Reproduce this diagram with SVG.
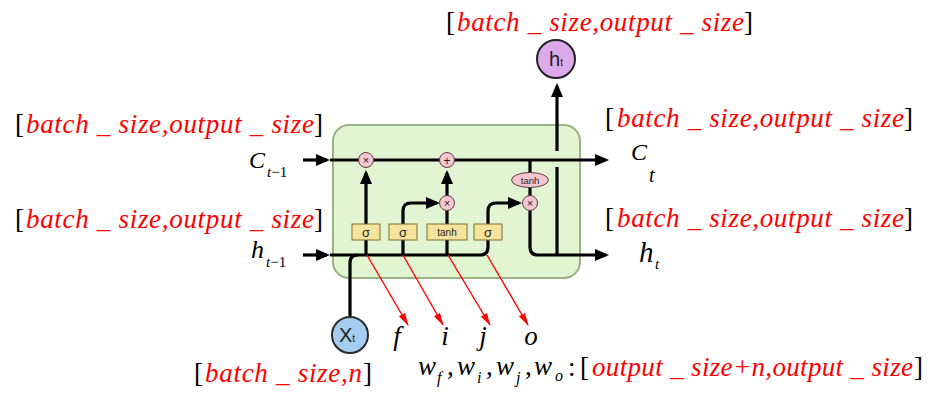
<svg xmlns="http://www.w3.org/2000/svg" width="940" height="403" viewBox="0 0 940 403">
<style>
text{font-family:"Liberation Serif","Times New Roman",serif}
.ln{fill:none;stroke:#000;stroke-width:3.2}
.rl{fill:none;stroke:#f00;stroke-width:1.4}
.pk{fill:#f6c6d0;stroke:#5a4048;stroke-width:1}
.yb{fill:#f6e49c;stroke:#7d6d30;stroke-width:1}
text.gl{font-family:"Liberation Sans","DejaVu Sans",sans-serif;fill:#222;text-anchor:middle}
.m{font-family:"Liberation Serif","Times New Roman",serif;font-style:italic;fill:#000}
.up{font-family:"Liberation Serif","Times New Roman",serif;font-style:normal;fill:#000}
.rd{font-family:"Liberation Serif","Times New Roman",serif;font-style:italic;fill:#f00}
</style>
<defs>
<marker id="ah" viewBox="0 0 14 12" refX="11" refY="6" markerWidth="14" markerHeight="12" markerUnits="userSpaceOnUse" orient="auto"><path d="M0,0 L14,6 L0,12 z" fill="#000"/></marker>
<marker id="ar" viewBox="0 0 13 7" refX="12" refY="3.5" markerWidth="13" markerHeight="7" markerUnits="userSpaceOnUse" orient="auto"><path d="M0,0 L13,3.5 L0,7 z" fill="#f00"/></marker>
</defs>
<rect width="940" height="403" fill="#fff"/>
<g id="cell"><rect x="333" y="125" width="247" height="153" rx="16" fill="#e1f5d2" stroke="#98b283" stroke-width="2"/></g>
<g id="connectors">
<path class="ln" d="M303 160 H327" marker-end="url(#ah)"/>
<path class="ln" d="M330 160 H606" marker-end="url(#ah)"/>
<path class="ln" d="M303 255 H327" marker-end="url(#ah)"/>
<path class="ln" d="M330 255 H480 Q488 255 488 247 V211 Q488 203 496 203 H519" marker-end="url(#ah)"/>
<path class="ln" d="M366 255 V173" marker-end="url(#ah)"/>
<path class="ln" d="M403 255 V211 Q403 203 411 203 H437" marker-end="url(#ah)"/>
<path class="ln" d="M447 255 V203"/>
<path class="ln" d="M447 196 V173" marker-end="url(#ah)"/>
<path class="ln" d="M530 160 V203"/>
<path class="ln" d="M530 203 V247 Q530 255 538 255 H606" marker-end="url(#ah)"/>
<path class="ln" d="M557 255 V167"/>
<path class="ln" d="M557 151 V86" marker-end="url(#ah)"/>
<path class="ln" d="M350 318 V263 Q350 255 358 255"/>
<path class="rl" d="M367 255 L408 325" marker-end="url(#ar)"/>
<path class="rl" d="M403 255 L443 325" marker-end="url(#ar)"/>
<path class="rl" d="M448 255 L490 325" marker-end="url(#ar)"/>
<path class="rl" d="M487 255 L528 325" marker-end="url(#ar)"/>
</g>
<g id="forget-mul"><circle class="pk" cx="366" cy="160" r="7.5"/><text class="gl" x="366" y="164" font-size="11">×</text></g>
<g id="add"><circle class="pk" cx="447" cy="160" r="7.5"/><text class="gl" x="447" y="164.5" font-size="12">+</text></g>
<g id="input-mul"><circle class="pk" cx="447" cy="203" r="7.5"/><text class="gl" x="447" y="207" font-size="11">×</text></g>
<g id="output-mul"><circle class="pk" cx="530" cy="203" r="7.5"/><text class="gl" x="530" y="207" font-size="11">×</text></g>
<g id="tanh-c"><ellipse class="pk" cx="530" cy="180" rx="18.5" ry="7.5"/><text class="gl" x="530" y="183.5" font-size="9.5">tanh</text></g>
<g id="sigma-f"><rect class="yb" x="352" y="224" width="28" height="16"/><text class="gl" x="366" y="236.5" font-size="13">σ</text></g>
<g id="sigma-i"><rect class="yb" x="389" y="224" width="28" height="16"/><text class="gl" x="403" y="236.5" font-size="13">σ</text></g>
<g id="tanh-j"><rect class="yb" x="427" y="224" width="40" height="16"/><text class="gl" x="447" y="235.5" font-size="10">tanh</text></g>
<g id="sigma-o"><rect class="yb" x="474" y="224" width="28" height="16"/><text class="gl" x="488" y="236.5" font-size="13">σ</text></g>
<g id="xt"><circle cx="350" cy="335" r="18" fill="#a4cdf0" stroke="#2a2a2a" stroke-width="2"/><text class="gl" x="347" y="342" font-size="20">X<tspan font-size="10">t</tspan></text></g>
<g id="ht"><circle cx="556" cy="59" r="19" fill="#dcaaeb" stroke="#222" stroke-width="2"/><text class="gl" x="556" y="66" font-size="20">h<tspan font-size="10">t</tspan></text></g>
<g id="label-c-prev">
<text x="15" y="133" font-size="27"><tspan class="up">[</tspan><tspan class="rd" x="26" textLength="288" lengthAdjust="spacing">batch _ size,output _ size</tspan><tspan class="up" x="314">]</tspan></text>
<text class="m" x="249" y="168" font-size="24">C<tspan x="267" y="177" font-size="15">t</tspan><tspan class="up" font-size="15">−1</tspan></text>
</g>
<g id="label-h-prev">
<text x="15" y="228" font-size="27"><tspan class="up">[</tspan><tspan class="rd" x="26" textLength="288" lengthAdjust="spacing">batch _ size,output _ size</tspan><tspan class="up" x="314">]</tspan></text>
<text class="m" x="251" y="258" font-size="26">h<tspan x="266" y="267" font-size="15">t</tspan><tspan class="up" font-size="15">−1</tspan></text>
</g>
<g id="label-ht-top">
<text x="446" y="31" font-size="27"><tspan class="up">[</tspan><tspan class="rd" x="457" textLength="287" lengthAdjust="spacing">batch _ size,output _ size</tspan><tspan class="up" x="744">]</tspan></text>
</g>
<g id="label-ct">
<text x="605" y="127" font-size="27"><tspan class="up">[</tspan><tspan class="rd" x="617" textLength="287" lengthAdjust="spacing">batch _ size,output _ size</tspan><tspan class="up" x="904">]</tspan></text>
<text class="m" x="631" y="160" font-size="24">C</text>
<text class="m" x="649" y="182" font-size="20">t</text>
</g>
<g id="label-ht">
<text x="605" y="227" font-size="27"><tspan class="up">[</tspan><tspan class="rd" x="617" textLength="287" lengthAdjust="spacing">batch _ size,output _ size</tspan><tspan class="up" x="904">]</tspan></text>
<text class="m" x="639" y="262" font-size="29">h<tspan x="655" y="269" font-size="15">t</tspan></text>
</g>
<g id="gate-labels">
<text class="m" x="397" y="345" font-size="27" text-anchor="middle">f</text>
<text class="m" x="445" y="345" font-size="27" text-anchor="middle">i</text>
<text class="m" x="483" y="345" font-size="27" text-anchor="middle">j</text>
<text class="m" x="531" y="345" font-size="27" text-anchor="middle">o</text>
</g>
<g id="label-xt">
<text x="194" y="382" font-size="27"><tspan class="up">[</tspan><tspan class="rd" x="205" textLength="157" lengthAdjust="spacing">batch _ size,n</tspan><tspan class="up" x="363">]</tspan></text>
</g>
<g id="label-w">
<text class="m" x="418" y="375" font-size="27">w</text><text class="m" x="437" y="383" font-size="16">f</text><text class="up" x="447" y="375" font-size="27">,</text>
<text class="m" x="457" y="375" font-size="27">w</text><text class="m" x="477" y="383" font-size="16">i</text><text class="up" x="486" y="375" font-size="27">,</text>
<text class="m" x="496" y="375" font-size="27">w</text><text class="m" x="516" y="383" font-size="16">j</text><text class="up" x="525" y="375" font-size="27">,</text>
<text class="m" x="534" y="375" font-size="27">w</text><text class="m" x="555" y="381" font-size="16">o</text>
<text x="568" y="376" font-size="27"><tspan class="up">:</tspan><tspan class="up" x="580">[</tspan><tspan class="rd" x="592" textLength="321" lengthAdjust="spacing">output _ size+n,output _ size</tspan><tspan class="up" x="914">]</tspan></text>
</g>
</svg>
